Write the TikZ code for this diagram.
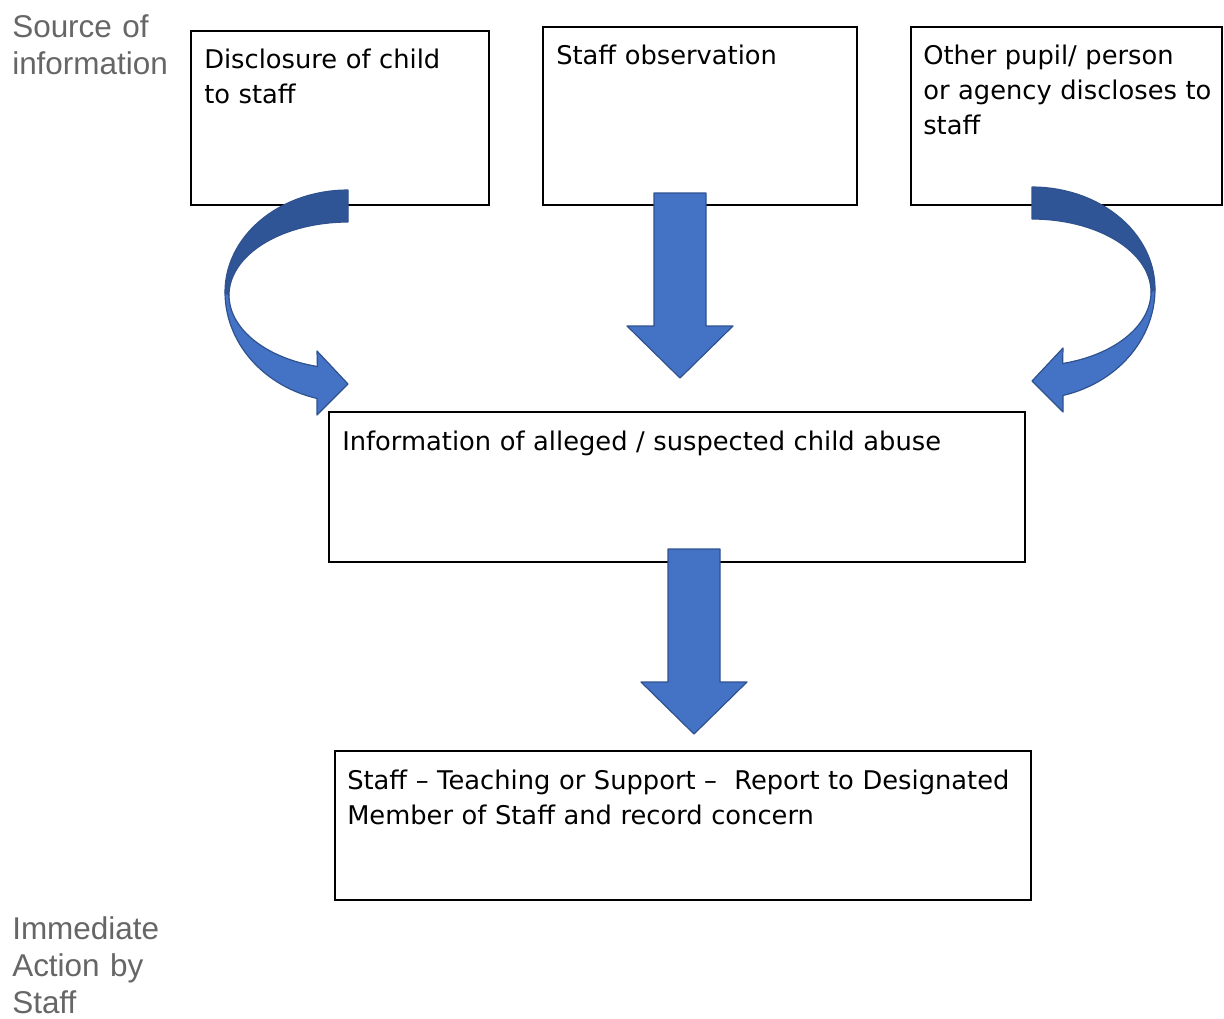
\documentclass[tikz,border=0pt]{standalone}
\usepackage{fontspec}
\setmainfont{DejaVu Sans}
\newfontfamily\sidefont{Liberation Sans}
\usetikzlibrary{calc}

\definecolor{arrowblue}{HTML}{4472C4}
\definecolor{arrowdark}{HTML}{2F5597}
\definecolor{arrowedge}{HTML}{2F528F}
\definecolor{sidegray}{HTML}{666666}

% one unit of the drawing
\newcommand\px{0.75pt}

\tikzset{
  arrowpiece/.style={fill=arrowblue, draw=arrowedge, line width=0.9pt, line join=round},
  % straight block arrow, placed at the middle of its top end
  blockdown/.pic={
    \filldraw[arrowpiece] (-26,0) -- (26,0) -- (26,133) -- (53,133)
      -- (0,185) -- (-53,133) -- (-26,133) -- cycle;
  },
  % curved block arrow, placed at its top end
  bendarrow/.pic={
    \filldraw[arrowpiece, fill=arrowdark]
      plot[domain=90:180, samples=30] ({123*cos(\x)}, {102-102*sin(\x)})
      -- plot[domain=180:90, samples=30] ({119*cos(\x)}, {105-73*sin(\x)}) -- cycle;
    \filldraw[arrowpiece]
      plot[domain=180:255.4, samples=30] ({123*cos(\x)}, {102-110*sin(\x)})
      -- (-31,225) -- (0,194) -- (-31,161)
      -- plot[domain=255.1:180, samples=30] ({119*cos(\x)}, {105-74*sin(\x)}) -- cycle;
  },
}

\begin{document}
\begin{tikzpicture}[
  x=\px, y=-\px,
  box/.style={
    draw,
    fill=white,
    line width=1.2pt,
    inner sep=0pt,
    outer sep=0pt,
    anchor=north west,
  },
  txt/.style={
    anchor=base west,
    inner sep=0pt,
    align=left,
    text width=690*\px,
    font=\fontsize{19.3pt}{26.25pt}\selectfont,
  },
  side/.style={
    anchor=base west,
    inner sep=0pt,
    align=left,
    text width=200*\px,
    text=sidegray,
    font=\sidefont\fontsize{23.6pt}{27.75pt}\selectfont,
  },
]
  \useasboundingbox (0,0) rectangle (1224,1018);

  % source boxes along the top
  \node[box, minimum width=298*\px, minimum height=174*\px] (disclose) at (191,31) {};
  \node[box, minimum width=314*\px, minimum height=178*\px] (observe)  at (543,27) {};
  \node[box, minimum width=311*\px, minimum height=178*\px] (other)    at (911,27) {};
  % middle and bottom boxes
  \node[box, minimum width=696*\px, minimum height=150*\px] (info)   at (329,412) {};
  \node[box, minimum width=696*\px, minimum height=149*\px] (report) at (335,751) {};

  \node[txt] (disclosetxt) at ($(disclose.north west)+(13,37)$) {Disclosure of child\\to staff};
  \node[txt] (observetxt)  at ($(observe.north west)+(13,37)$)  {Staff observation};
  \node[txt] (othertxt)    at ($(other.north west)+(12,37)$)    {Other pupil/ person\\or agency discloses to\\staff};
  \node[txt] (infotxt)     at ($(info.north west)+(13,38)$)     {Information of alleged / suspected child abuse};
  \node[txt] (reporttxt)   at ($(report.north west)+(12,38)$)
    {Staff – Teaching or Support –~\ Report to Designated\\Member of Staff and record concern};

  % labels down the left side
  \node[side] (sourcelbl) at (12,37)  {Source of\\information};
  \node[side] (actionlbl) at (12,939) {Immediate\\Action by\\Staff};

  % block arrows
  \pic at ($(disclose.south east)+(-141,-15)$) {bendarrow};
  \pic[xscale=-1] at ($(other.south west)+(121,-18)$) {bendarrow};
  \pic at ($(observe.south)+(-20,-12)$) {blockdown};
  \pic at ($(info.south)+(17,-13)$) {blockdown};
\end{tikzpicture}
\end{document}
